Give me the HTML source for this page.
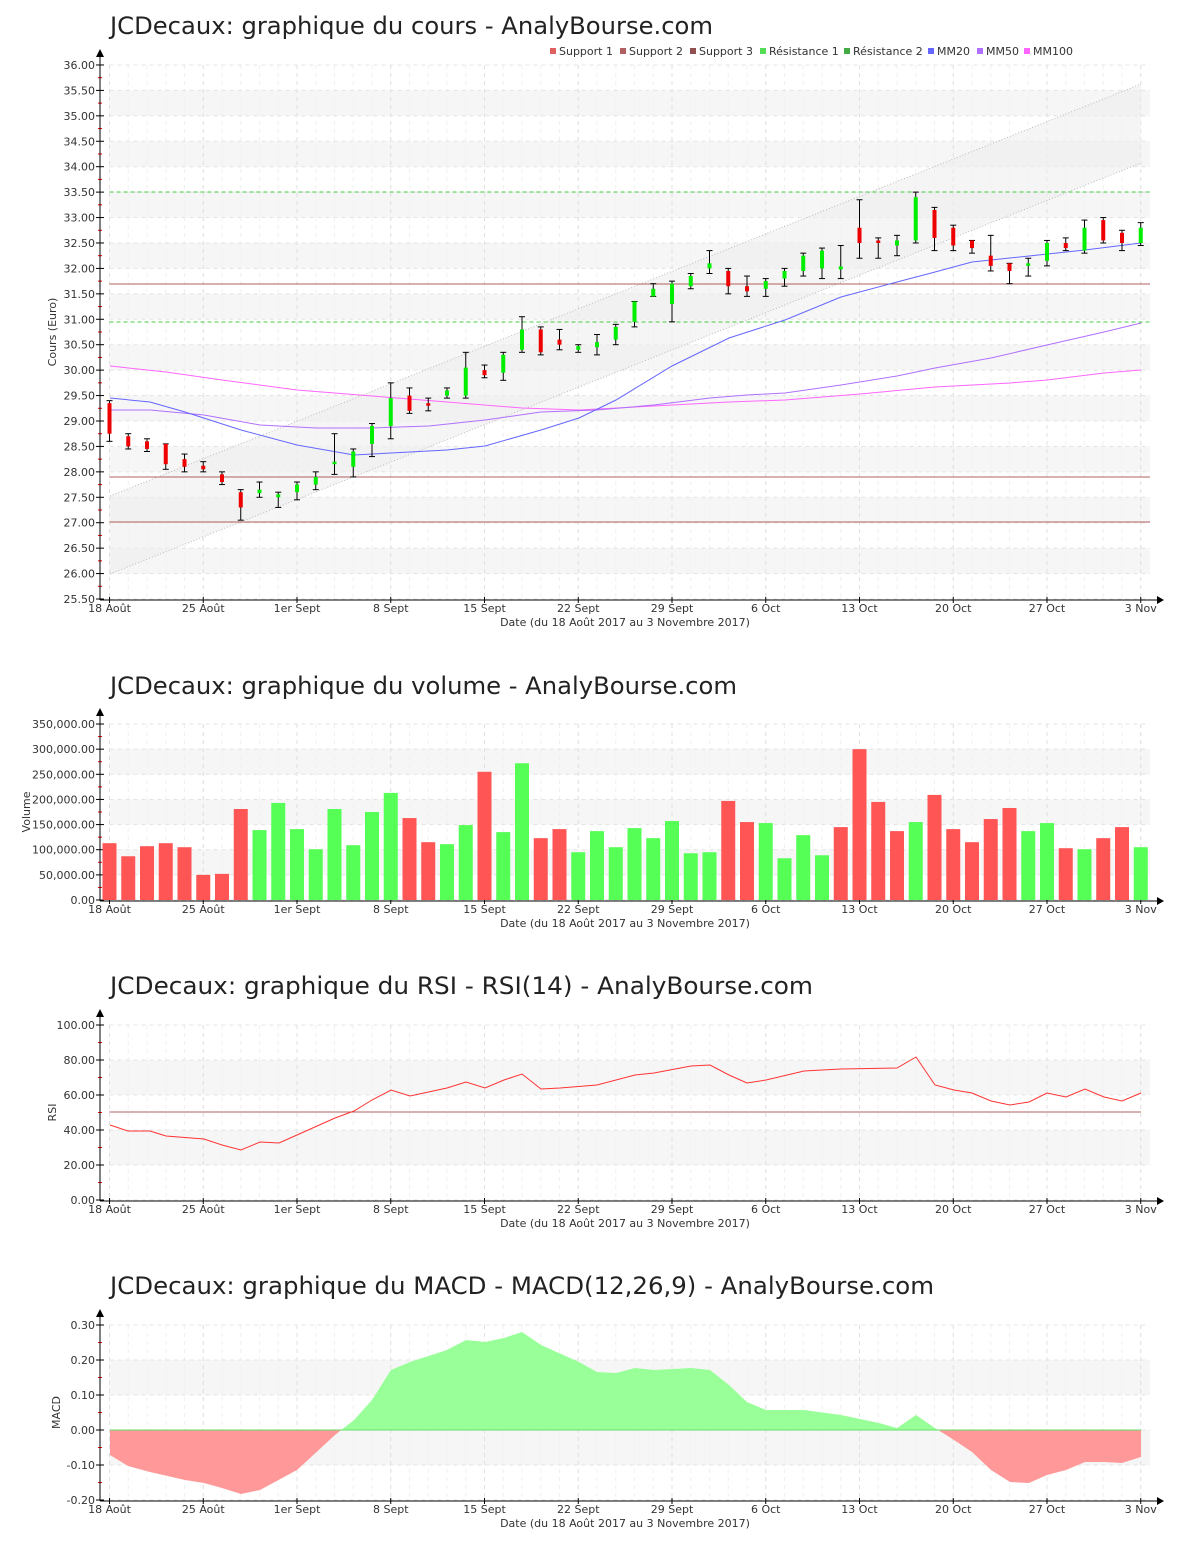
<!DOCTYPE html>
<html><head><meta charset="utf-8"><style>
body{margin:0;background:#fff;width:1200px;height:1550px;overflow:hidden}
svg text{font-family:"DejaVu Sans","Liberation Sans",sans-serif}
</style></head><body>
<svg id="s" width="1200" height="1550" xmlns="http://www.w3.org/2000/svg"></svg>
<script>
const S=document.getElementById('s');let h='';
const X0=109.5,DX=18.75,XE=1150;
const xi=i=>X0+i*DX;
const dates=[[0,'18 Août'],[5,'25 Août'],[10,'1er Sept'],[15,'8 Sept'],[20,'15 Sept'],[25,'22 Sept'],[30,'29 Sept'],[35,'6 Oct'],[40,'13 Oct'],[45,'20 Oct'],[50,'27 Oct'],[55,'3 Nov']];
function frame(top,bot,ticks,yl,title,titleY,bands,tw){
 bands.forEach(b=>{h+=`<rect x="${X0}" y="${b[0]}" width="${XE-X0}" height="${b[1]-b[0]}" fill="#f6f6f6"/>`});
 for(let i=0;i<56;i++){h+=`<line x1="${xi(i)}" y1="${top}" x2="${xi(i)}" y2="${bot}" stroke="#f0f0f0" stroke-dasharray="4,4"/>`}
 dates.forEach(d=>{h+=`<line x1="${xi(d[0])}" y1="${top}" x2="${xi(d[0])}" y2="${bot}" stroke="#e0e0e0" stroke-dasharray="4,4"/>`});
 ticks.forEach(t=>{h+=`<line x1="${X0}" y1="${t[0]}" x2="${XE}" y2="${t[0]}" stroke="#e4e4e4" stroke-dasharray="4,4"/><line x1="96" y1="${t[0]}" x2="104" y2="${t[0]}" stroke="#000"/><text x="95" y="${t[0]+4}" font-size="11" text-anchor="end" fill="#333">${t[1]}</text>`});
 for(let k=0;k<ticks.length-1;k++){let m=(ticks[k][0]+ticks[k+1][0])/2;h+=`<line x1="98" y1="${m}" x2="102" y2="${m}" stroke="#f00"/>`}
 h+=`<line x1="100" y1="${top-10}" x2="100" y2="${bot+1}" stroke="#000"/><path d="M96 ${top-8}L100 ${top-16}L104 ${top-8}Z"/>`;
 h+=`<line x1="100" y1="${bot+1}" x2="1158" y2="${bot+1}" stroke="#000"/><path d="M1157 ${bot-3}L1164 ${bot+1}L1157 ${bot+5}Z"/>`;
 dates.forEach(d=>{h+=`<line x1="${xi(d[0])}" y1="${bot-2}" x2="${xi(d[0])}" y2="${bot+4}" stroke="#000"/><text x="${xi(d[0])}" y="${bot+13}" font-size="11" text-anchor="middle" fill="#333">${d[1]}</text>`});
 h+=`<text x="625" y="${bot+27}" font-size="11" text-anchor="middle" fill="#333">Date (du 18 Août 2017 au 3 Novembre 2017)</text>`;
 h+=`<text x="0" y="0" font-size="11" fill="#333" text-anchor="middle" transform="translate(${yl[0]},${(top+bot)/2}) rotate(-90)">${yl[1]}</text>`;
 h+=`<text x="110" y="${titleY}" font-size="24" fill="#222" textLength="${tw}" lengthAdjust="spacingAndGlyphs">${title}</text>`;
}
const pl=(pts,c)=>`<polyline points="${pts.map(p=>p.join(',')).join(' ')}" fill="none" stroke="${c}" stroke-width="1"/>`;
const py=v=>599-(v-25.5)/0.5*25.43;
let t1=[],b1=[];for(let k=0;k<=21;k++){let v=25.5+k*0.5;t1.push([py(v),v.toFixed(2)])}
for(let v=26;v<36;v+=1){b1.push([py(v+0.5),py(v)])}
frame(65,599,t1,[56,'Cours (Euro)'],'JCDecaux: graphique du cours - AnalyBourse.com',34,b1,603);
h+=`<polygon points="110,574 1141,163 1141,84 110,496" fill="#eeeeee" opacity="0.6"/>`;
h+=`<line x1="110" y1="574" x2="1141" y2="163" stroke="#bbb" stroke-dasharray="1,2"/><line x1="110" y1="496" x2="1141" y2="84" stroke="#bbb" stroke-dasharray="1,2"/>`;
[284,477,522].forEach(y=>h+=`<line x1="${X0}" y1="${y}" x2="${XE}" y2="${y}" stroke="#b06060"/>`);
[192,322].forEach(y=>h+=`<line x1="${X0}" y1="${y}" x2="${XE}" y2="${y}" stroke="#44cc44" stroke-dasharray="4,3"/>`);
h+=pl([[110,366],[166,372],[222,380],[297,390],[372,396],[447,402],[522,408],[579,410],[654,406],[729,402],[785,400],[860,394],[935,387],[1010,383],[1047,380],[1104,373],[1141,370]],'#ff66ff');
h+=pl([[110,410],[150,410],[204,415],[260,425],[316,428],[372,428],[429,426],[485,420],[541,412],[597,410],[654,405],[710,398],[747,395],[785,393],[841,385],[897,376],[935,368],[991,358],[1047,345],[1104,332],[1141,323]],'#b070ff');
h+=pl([[110,398],[150,402],[185,412],[241,430],[297,445],[354,455],[391,453],[447,450],[485,446],[541,430],[579,418],[616,400],[672,366],[729,338],[785,320],[841,297],[897,282],[935,272],[972,262],[1029,256],[1085,250],[1141,243]],'#6666ff');
const C=[[29.35,28.75,29.4,28.6],[28.7,28.5,28.75,28.45],[28.6,28.45,28.65,28.4],[28.55,28.15,28.55,28.05],[28.25,28.1,28.35,28.0],[28.12,28.05,28.2,28.0],[27.95,27.8,28.0,27.75],[27.6,27.3,27.65,27.05],[27.58,27.65,27.8,27.5],[27.5,27.56,27.6,27.3],[27.6,27.75,27.8,27.45],[27.75,27.9,28.0,27.65],[28.15,28.2,28.75,27.95],[28.1,28.4,28.45,27.9],[28.55,28.9,28.95,28.3],[28.9,29.45,29.75,28.65],[29.5,29.2,29.65,29.15],[29.35,29.3,29.45,29.2],[29.5,29.6,29.65,29.45],[29.5,30.05,30.35,29.45],[30.0,29.9,30.1,29.85],[29.95,30.3,30.35,29.8],[30.4,30.8,31.05,30.35],[30.8,30.35,30.85,30.3],[30.6,30.5,30.8,30.4],[30.4,30.47,30.5,30.35],[30.45,30.55,30.7,30.3],[30.6,30.85,30.9,30.5],[30.95,31.35,31.35,30.85],[31.45,31.6,31.7,31.45],[31.3,31.7,31.75,30.95],[31.65,31.85,31.9,31.6],[32.0,32.1,32.35,31.9],[31.95,31.65,32.0,31.5],[31.65,31.55,31.85,31.45],[31.6,31.75,31.8,31.45],[31.8,31.95,32.0,31.65],[31.95,32.25,32.3,31.85],[32.0,32.35,32.4,31.8],[32.0,32.02,32.45,31.8],[32.8,32.5,33.35,32.2],[32.55,32.5,32.6,32.2],[32.45,32.55,32.65,32.25],[32.55,33.4,33.5,32.5],[33.15,32.6,33.2,32.35],[32.8,32.45,32.85,32.35],[32.55,32.4,32.55,32.3],[32.25,32.05,32.65,31.95],[32.1,31.95,32.1,31.7],[32.05,32.1,32.2,31.85],[32.15,32.5,32.55,32.05],[32.5,32.4,32.6,32.35],[32.35,32.8,32.95,32.3],[32.95,32.55,33.0,32.5],[32.7,32.5,32.75,32.35],[32.5,32.8,32.9,32.45]];
C.forEach((c,i)=>{let x=xi(i);let [o,cl,hi,lo]=c;
 h+=`<line x1="${x}" y1="${py(hi)}" x2="${x}" y2="${py(lo)}" stroke="#000"/><line x1="${x-3}" y1="${py(hi)}" x2="${x+3}" y2="${py(hi)}" stroke="#000"/><line x1="${x-3}" y1="${py(lo)}" x2="${x+3}" y2="${py(lo)}" stroke="#000"/>`;
 let t=py(Math.max(o,cl)),b=py(Math.min(o,cl));if(b-t<2){t-=1;b+=1}
 h+=`<rect x="${x-2}" y="${t}" width="4" height="${b-t}" fill="${cl>=o?'#00ee00':'#ee0000'}"/>`;});
const lg=[['Support 1','#e06060',550],['Support 2','#b06060',620],['Support 3','#905050',690],['Résistance 1','#55dd55',760],['Résistance 2','#44aa44',844],['MM20','#6666ff',928],['MM50','#b070ff',977],['MM100','#ff66ff',1024]];
lg.forEach(l=>h+=`<rect x="${l[2]}" y="48" width="6" height="6" fill="${l[1]}"/><text x="${l[2]+9}" y="55" font-size="11" fill="#333">${l[0]}</text>`);
const vy=v=>900-v/50000*25.14;
let t2=[],b2=[];for(let k=0;k<=7;k++){t2.push([vy(k*50000),(k*50000).toLocaleString('en-US')+'.00'])}
for(let k=1;k<7;k+=2)b2.push([vy((k+1)*50000),vy(k*50000)]);
frame(724,900,t2,[30,'Volume'],'JCDecaux: graphique du volume - AnalyBourse.com',694,b2,627);
const V=[113,87,107,113,105,50,52,181,139,193,141,101,181,109,175,213,163,115,111,149,255,135,272,123,141,95,137,105,143,123,157,93,95,197,155,153,83,129,89,145,300,195,137,155,209,141,115,161,183,137,153,103,101,123,145,105];
const VC='rrrrrrrrggggggggrrggrggrrggggggggrrggggrrrrgrrrrrggrgrrg';
V.forEach((v,i)=>{let y=vy(v*1000);h+=`<rect x="${xi(i)-7}" y="${y}" width="14" height="${900-y}" fill="${VC[i]=='r'?'#ff5555':'#55ff55'}"/>`});
const ry=v=>1200-v/20*35;
let t3=[],b3=[];for(let k=0;k<=5;k++)t3.push([ry(k*20),(k*20).toFixed(2)]);
b3.push([ry(80),ry(60)],[ry(40),ry(20)]);
frame(1025,1200,t3,[56,'RSI'],'JCDecaux: graphique du RSI - RSI(14) - AnalyBourse.com',994,b3,703);
h+=`<line x1="${X0}" y1="1112" x2="1141" y2="1112" stroke="#b06060"/>`;
h+=pl([[110,1125],[128,1131],[150,1131],[166,1136],[204,1139],[222,1145],[241,1150],[260,1142],[279,1143],[297,1135],[335,1118],[354,1111],[372,1100],[391,1090],[410,1096],[447,1088],[466,1082],[485,1088],[504,1080],[522,1074],[541,1089],[560,1088],[597,1085],[635,1075],[654,1073],[691,1066],[710,1065],[729,1075],[747,1083],[766,1080],[804,1071],[841,1069],[897,1068],[916,1057],[935,1085],[954,1090],[972,1093],[991,1101],[1010,1105],[1029,1102],[1047,1093],[1066,1097],[1085,1089],[1104,1097],[1122,1101],[1141,1093]],'#ff3333');
const my=v=>1430-v/0.1*35;
let t4=[],b4=[];for(let k=-2;k<=3;k++)t4.push([my(k/10),(k/10).toFixed(2)]);
t4.reverse();b4.push([my(0.2),my(0.1)],[my(0),my(-0.1)]);
frame(1325,1500,t4,[60,'MACD'],'JCDecaux: graphique du MACD - MACD(12,26,9) - AnalyBourse.com',1294,b4,824);
const M=[[110,1455],[128,1466],[150,1472],[185,1480],[204,1483],[222,1488],[241,1494],[260,1490],[297,1470],[335,1435],[354,1420],[372,1400],[391,1370],[410,1362],[447,1350],[466,1340],[485,1342],[504,1338],[522,1332],[541,1345],[579,1362],[597,1372],[616,1373],[635,1368],[654,1370],[691,1368],[710,1370],[729,1385],[747,1402],[766,1410],[804,1410],[841,1415],[879,1423],[897,1428],[916,1415],[935,1428],[954,1440],[972,1452],[991,1470],[1010,1482],[1029,1483],[1047,1475],[1066,1470],[1085,1462],[1104,1462],[1122,1463],[1141,1457]];
const poly='110,1430 '+M.map(p=>p.join(',')).join(' ')+' 1141,1430';
h+=`<defs><clipPath id="up"><rect x="0" y="0" width="1200" height="1430"/></clipPath><clipPath id="dn"><rect x="0" y="1430" width="1200" height="200"/></clipPath></defs>`;
h+=`<polygon points="${poly}" fill="#99ff99" clip-path="url(#up)"/><polygon points="${poly}" fill="#ff9999" clip-path="url(#dn)"/>`;
h+=`<line x1="110" y1="1430" x2="1141" y2="1430" stroke="#66dd66"/>`;
S.innerHTML=h;
</script>
</body></html>
